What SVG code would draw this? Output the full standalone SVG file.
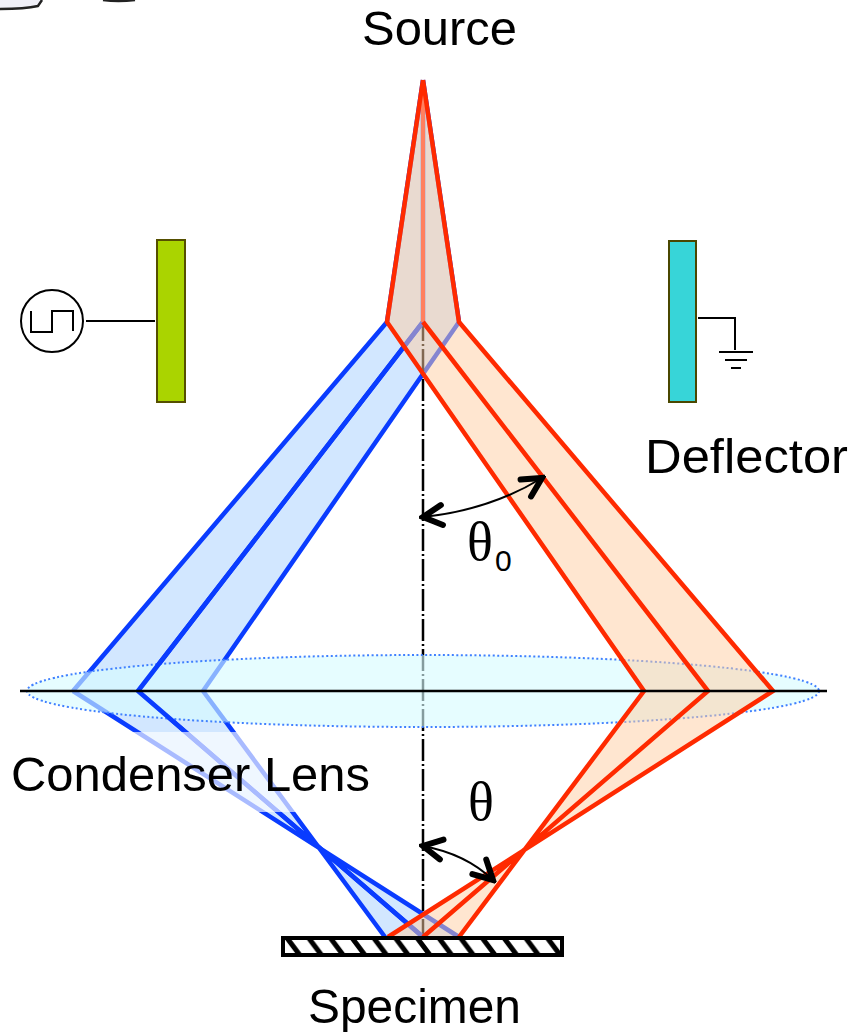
<svg xmlns="http://www.w3.org/2000/svg" width="855" height="1032" viewBox="0 0 855 1032">
<style>
text{font-family:"Liberation Sans",Arial,sans-serif;fill:#000}
.l{font-size:48.5px}
.g{font-family:"Liberation Serif","Times New Roman",serif;font-size:54px}
.blue{stroke:#0a3cff;stroke-width:4.5;fill:none}
.red{stroke:#ff2a00;stroke-width:4.5;fill:none}
.w{stroke:#000;stroke-width:2;fill:none}
</style>
<defs>
<pattern id="hatch" width="21.7" height="20" patternUnits="userSpaceOnUse" patternTransform="translate(281 938)">
<rect width="21.7" height="20" fill="#fff"/>
<path d="M4.5 -2L19.5 18M-17.2 -2L-2.2 18M26.2 -2L41.2 18" stroke="#000" stroke-width="5"/>
</pattern>
<marker id="ah" viewBox="0 0 30 30" refX="26" refY="15" markerWidth="30" markerHeight="30" orient="auto-start-reverse" markerUnits="userSpaceOnUse">
<path d="M7 5L26 15L7 25" fill="none" stroke="#000" stroke-width="6" stroke-linecap="round" stroke-linejoin="miter"/>
</marker>
</defs>
<g id="scrap">
<path d="M0 9Q25 9 38 6L42 0H0Z" fill="#f0f0f8"/>
<path d="M0 9Q25 9 38 6L42 0" fill="none" stroke="#222" stroke-width="2.5"/>
<path d="M103 0Q118 2 135 0" fill="none" stroke="#222" stroke-width="2.5"/>
</g>
<g id="blue-beam">
<path d="M423 80L387 322L73 691L320 851L385 937H459L320 851L203 691L459 322Z" fill="#d2e7ff"/>
<path d="M423 80L387 322L73 691M423 80L459 322L203 691M423 80V322L138 691" class="blue"/>
<path d="M73 691L459 937M203 691L385 937M138 691L423 937" class="blue"/>
</g>
<g id="connectors">
<path d="M423 322V938" stroke="#000" stroke-width="2.5" stroke-dasharray="22 3 2 3" stroke-dashoffset="3" fill="none"/>
</g>
<g id="lens">
<ellipse cx="423" cy="691" rx="396" ry="36" fill="#d6fcff" fill-opacity=".62" stroke="#4080ff" stroke-width="2" stroke-dasharray="2 2.5"/>
<path d="M423 322L138 691L423 937" class="blue"/>
</g>
<g id="red-beam">
<path d="M423 80L387 322L644 691L525 851L459 937H388L525 851L773 691L459 322Z" fill="#ffcda1" fill-opacity=".5"/>
<path d="M423 80V322" stroke="#ff8060" stroke-width="4"/>
<path d="M423 80L387 322L644 691L459 937M423 80L459 322L773 691L388 937M423 322L708 691L423 937" class="red"/>
</g>
<g id="label-backdrop"><rect x="0" y="732" width="380" height="80" fill="#fff" fill-opacity=".65"/></g>
<g id="connectors-top">
<path d="M20 691H827" stroke="#000" stroke-width="2.5"/>
<path d="M423 517Q490 510 542 478" class="w" marker-start="url(#ah)" marker-end="url(#ah)"/>
<path d="M423 846Q466 854 493 880" class="w" marker-start="url(#ah)" marker-end="url(#ah)"/>
<path d="M86 321H155" class="w"/>
<path d="M698 318H735V350" class="w"/>
<path d="M719 352H753M725 360H747M731 368H741" class="w"/>
</g>
<g id="source"><text class="l" x="362" y="45" textLength="155" lengthAdjust="spacingAndGlyphs">Source</text></g>
<g id="generator">
<circle cx="52" cy="321" r="31" fill="#fff" stroke="#000" stroke-width="2"/>
<path d="M31 311V332H52V311H73V331" class="w"/>
</g>
<g id="left-plate"><rect x="157" y="240" width="28" height="162" fill="#aad400" stroke="#554f00" stroke-width="2"/></g>
<g id="right-plate"><rect x="669" y="241" width="27" height="161" fill="#37d5d8" stroke="#4a4700" stroke-width="2"/></g>
<g id="deflector"><text class="l" x="645" y="473" textLength="203" lengthAdjust="spacingAndGlyphs">Deflector</text></g>
<g id="theta0"><text class="g" x="467" y="560">θ</text><text x="495" y="571" font-size="30">0</text></g>
<g id="condenser-lens"><text class="l" x="11" y="791" textLength="359" lengthAdjust="spacingAndGlyphs">Condenser Lens</text></g>
<g id="theta"><text class="g" x="468" y="820">θ</text></g>
<g id="specimen">
<rect x="283" y="938" width="279" height="17" fill="url(#hatch)" stroke="#000" stroke-width="4"/>
<text class="l" x="308" y="1023" textLength="213" lengthAdjust="spacingAndGlyphs">Specimen</text>
</g>
</svg>
